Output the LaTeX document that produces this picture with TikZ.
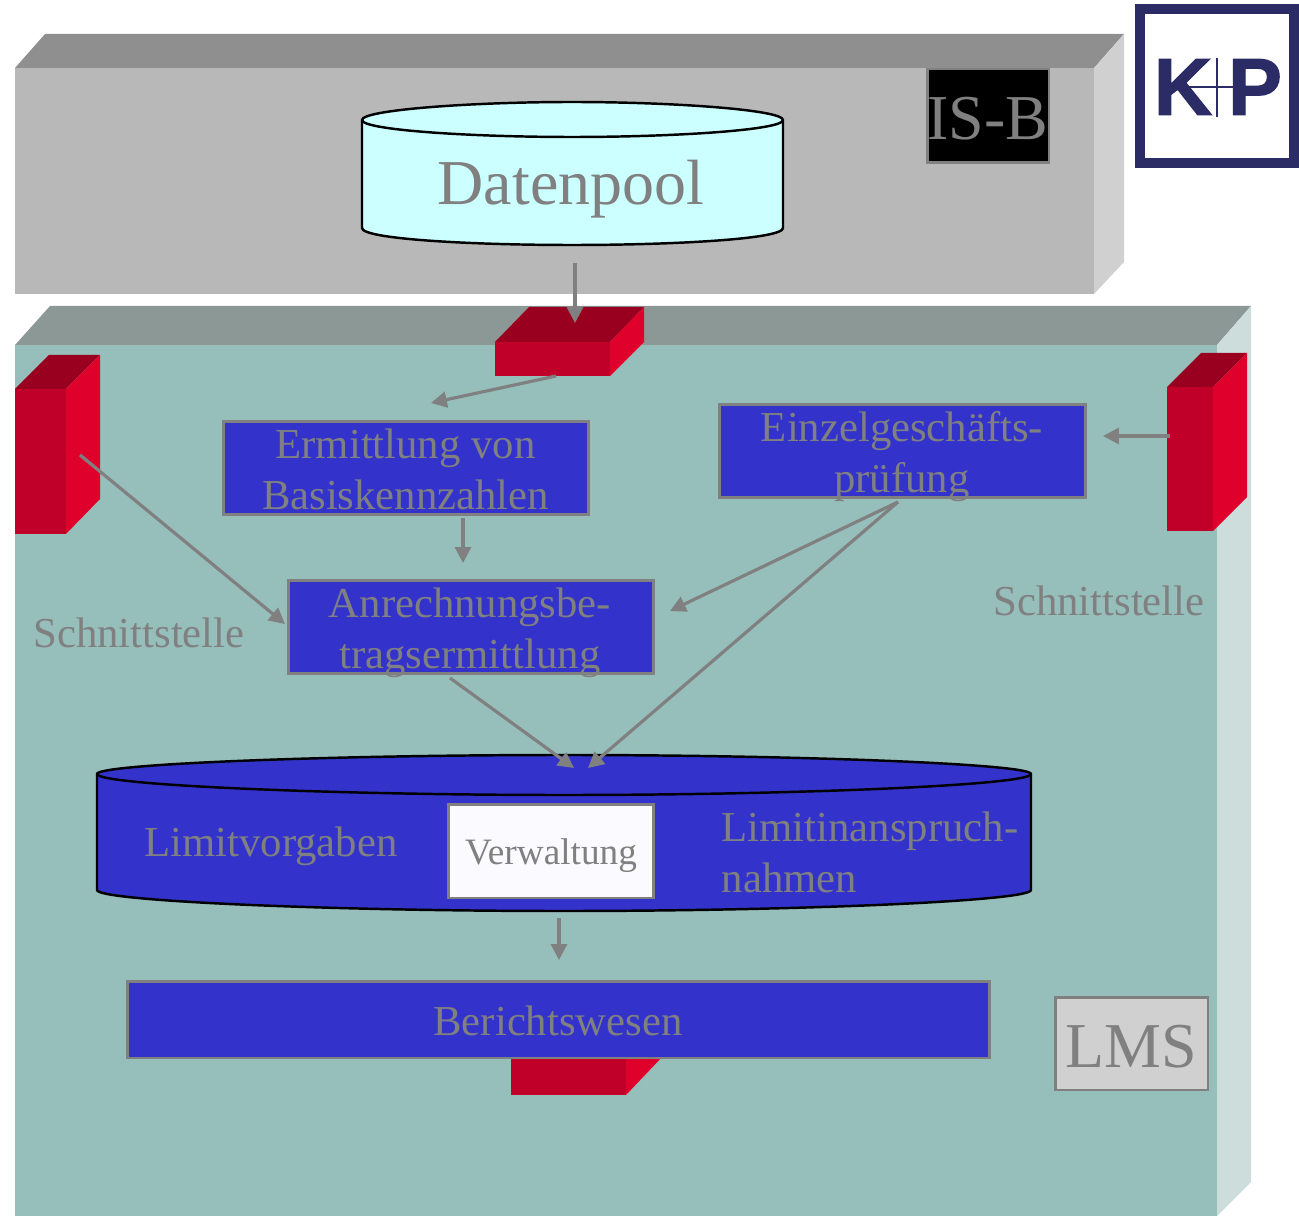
\documentclass[tikz,border=0pt]{standalone}
\usepackage{fontspec}
\setmainfont{Liberation Serif}
\newfontfamily\logofont[BoldFeatures={FakeBold=1.5}]{Liberation Sans}
\usetikzlibrary{arrows.meta}
\definecolor{greyfront}{HTML}{B8B8B8}
\definecolor{greytop}{HTML}{8F8F8F}
\definecolor{greyside}{HTML}{D0D0D0}
\definecolor{tealfront}{HTML}{96BEBA}
\definecolor{tealtop}{HTML}{8C9896}
\definecolor{tealside}{HTML}{CDDDDC}
\definecolor{boxblue}{HTML}{3333CC}
\definecolor{redfront}{HTML}{C00028}
\definecolor{redtop}{HTML}{990020}
\definecolor{redside}{HTML}{E0002C}
\definecolor{datacyan}{HTML}{CCFFFF}
\definecolor{logonavy}{HTML}{2B2B66}
\definecolor{textgrey}{HTML}{808080}
\begin{document}
\begin{tikzpicture}[x=.02cm, y=-.02cm]

	\tikzset{bluebox/.style={draw=textgrey, fill=boxblue, line width=1.7pt, inner sep=0pt, minimum width=7.32cm, minimum height=1.88cm}}
	\tikzset{labeltext/.style={text=textgrey, inner sep=0pt, font=\fontsize{24.3}{29}\selectfont, align=center}}
	\tikzset{bigtext/.style={text=textgrey, inner sep=0pt, font=\fontsize{36.4}{43}\selectfont}}
	\tikzset{flow/.style={->, >={Triangle[length=9pt, width=9pt]}, draw=textgrey, line width=1.8pt}}
	\tikzset{can/.style={draw=black, line width=1.4pt}}

	\useasboundingbox (0,0) rectangle (1299,1216);
%% Upper block
	\fill[greyfront] (15,68) rectangle (1094,294);
	\fill[greytop] (15,68) -- (45,34) -- (1124,34) -- (1094,68) -- cycle;
	\fill[greyside] (1094,68) -- (1124,34) -- (1124,262) -- (1094,294) -- cycle;
%% Lower block
	\fill[tealfront] (15,345) rectangle (1217,1216);
	\fill[tealtop] (15,345) -- (50,306) -- (1251,306) -- (1217,345) -- cycle;
	\fill[tealside] (1217,345) -- (1251,306) -- (1251,1182) -- (1217,1216) -- cycle;
%% Interfaces
	\fill[redfront] (495,342) rectangle (610,376);
	\fill[redtop] (495,342) -- (529,307) -- (644,307) -- (610,342) -- cycle;
	\fill[redside] (610,342) -- (644,307) -- (644,342) -- (610,376) -- cycle;
	\fill[redfront] (15,389) rectangle (66,534);
	\fill[redtop] (15,389) -- (49,355) -- (100,355) -- (66,389) -- cycle;
	\fill[redside] (66,389) -- (100,355) -- (100,499) -- (66,534) -- cycle;
	\fill[redfront] (1167,387) rectangle (1213,531);
	\fill[redtop] (1167,387) -- (1201,353) -- (1247,353) -- (1213,387) -- cycle;
	\fill[redside] (1213,387) -- (1247,353) -- (1247,497) -- (1213,531) -- cycle;
	\fill[redfront] (511,1055) rectangle (626,1095);
	\fill[redside] (626,1055) -- (664,1055) -- (626,1095) -- cycle;
%% Cans
	\draw[can, fill=datacyan] (362,120) .. controls (362,110) and (470,102) .. (572,102) .. controls (675,102) and (783,110) .. (783,120) -- (783,228) .. controls (783,239) and (675,245) .. (572,245) .. controls (470,245) and (362,239) .. (362,228) -- cycle;
	\draw[can] (362,120) .. controls (362,130) and (470,137) .. (572,137) .. controls (675,137) and (783,130) .. (783,120);
	\draw[can, fill=boxblue] (97,774) .. controls (97,764) and (330,755) .. (564,755) .. controls (798,755) and (1031,764) .. (1031,774) -- (1031,890) .. controls (1031,901) and (798,911) .. (564,911) .. controls (330,911) and (97,901) .. (97,890) -- cycle;
	\draw[can] (97,774) .. controls (97,785) and (330,795) .. (564,795) .. controls (798,795) and (1031,785) .. (1031,774);
%% Boxes
	\node[bluebox] (ermittlung) at (406,468) {};
	\node[bluebox] (einzel) at (902.5,451) {};
	\node[bluebox] (anrechnung) at (471,627) {};
	\node[bluebox, minimum width=17.26cm, minimum height=1.54cm] (berichte) at (558.5,1019.5) {};
	\node[draw=textgrey, fill=white!98!blue, line width=1.7pt, minimum width=4.12cm, minimum height=1.88cm, inner sep=0pt, text=textgrey, font=\fontsize{21.2}{25}\selectfont, text height=20pt] (verwaltung) at (551,851) {Verwaltung};
	\node[draw=textgrey, fill=black, line width=1.7pt, minimum width=2.44cm, minimum height=1.88cm, inner sep=0pt, bigtext, text height=27.6pt] (isb) at (988,116) {IS-B};
	\node[draw=textgrey, fill=greyside, line width=1.7pt, minimum width=3.06cm, minimum height=1.86cm, inner sep=0pt, bigtext, text height=27.6pt] (lms) at (1131.5,1043.5) {LMS};
%% Texts
	\node[bigtext] (datenpool) at (571,189) {Datenpool};
	\node[labeltext] (ermittlungtext) at (405.5,469) {Ermittlung von\\Basiskennzahlen};
	\node[labeltext] (einzeltext) at (902,457) {Einzelgeschäfts-\\prüfung};
	\node[labeltext] (anrechnungtext) at (470,633) {Anrechnungsbe-\\tragsermittlung};
	\node[labeltext] (schnittlinks) at (139,633) {Schnittstelle};
	\node[labeltext] (schnittrechts) at (1099,601) {Schnittstelle};
	\node[labeltext] (limitvorgaben) at (271,846) {Limitvorgaben};
	\node[labeltext, align=left] (limitinan) at (870,852) {Limitinanspruch-\\nahmen};
	\node[labeltext] (berichtetext) at (558,1021) {Berichtswesen};
%% Logo
	\node[draw=logonavy, fill=white, line width=5.6pt, minimum width=3.08cm, minimum height=3.08cm] (logo) at (1217,86) {};
	\node[text=logonavy, inner sep=0pt, font=\logofont\bfseries\fontsize{46}{46}\selectfont] (logok) at (1183,87) {K};
	\node[text=logonavy, inner sep=0pt, font=\logofont\bfseries\fontsize{46}{46}\selectfont] (logop) at (1255,87) {P};
	\coordinate (plustop) at (1217,58);
	\coordinate (plusbot) at (1217,117);
	\draw[logonavy, line width=.8pt] (plustop) -- (plusbot);
	\draw[logonavy, line width=.8pt] (logok.center) -- (logop.center);
%Arrows
	\coordinate (poolout) at (575,263);
	\coordinate (poolin) at (575,323);
	\coordinate (redout) at (556,376);
	\coordinate (ermittlungin) at (431,403);
	\coordinate (linksout) at (80,455);
	\coordinate (anrechnungin) at (285,624);
	\coordinate (rechtsout) at (1170,436);
	\coordinate (einzelin) at (1103,436);
	\coordinate (ermittlungout) at (463,518);
	\coordinate (anrechnungtop) at (463,563);
	\coordinate (einzelout) at (898,502);
	\coordinate (anrechnungright) at (670,611);
	\coordinate (limitright) at (588,768);
	\coordinate (anrechnungout) at (450,678);
	\coordinate (limitleft) at (574,768);
	\coordinate (limitout) at (559,918);
	\coordinate (berichtein) at (559,960);
	\draw[flow] (poolout) -- (poolin);
	\draw[flow] (redout) -- (ermittlungin);
	\draw[flow] (linksout) -- (anrechnungin);
	\draw[flow] (rechtsout) -- (einzelin);
	\draw[flow] (ermittlungout) -- (anrechnungtop);
	\draw[flow] (einzelout) -- (anrechnungright);
	\draw[flow] (einzelout) -- (limitright);
	\draw[flow] (anrechnungout) -- (limitleft);
	\draw[flow] (limitout) -- (berichtein);

\end{tikzpicture}
\end{document}
